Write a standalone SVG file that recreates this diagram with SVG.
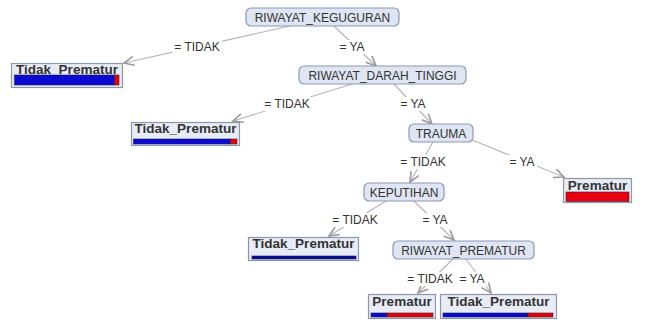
<svg xmlns="http://www.w3.org/2000/svg" width="664" height="320" viewBox="0 0 664 320">
<defs>
<marker id="arr" markerUnits="userSpaceOnUse" markerWidth="14" markerHeight="12" refX="11" refY="5" orient="auto">
<path d="M1,0.5 L11,5 L1,9.5" fill="none" stroke="#9a9a9a" stroke-width="1.6"/>
</marker>
<style>
.node rect{fill:#dfe5f2;stroke:#8e98b3;stroke-width:1.2}
.leaf rect.box{fill:#e8ecf6;stroke:#8f96a8;stroke-width:1.2}
.nt{font-family:"Liberation Sans",Arial,sans-serif;font-size:12px;fill:#333;text-anchor:middle}
.lt{font-family:"Liberation Sans",Arial,sans-serif;font-size:13.5px;font-weight:bold;fill:#333;text-anchor:middle}
.blue{fill:#0a0ad2;stroke:#1a1a4a;stroke-width:0.6}
.red{fill:#e60012;stroke:#4a1a1a;stroke-width:0.6}
.edges line{stroke:#b4b4b4;stroke-width:1.1;marker-end:url(#arr)}
.el rect{fill:#fff}
.el text{font-family:"Liberation Sans",Arial,sans-serif;font-size:12px;fill:#333;text-anchor:middle}
</style>
</defs>
<rect width="664" height="320" fill="#fff"/>
<g id="connectors" class="edges">
<line x1="290" y1="26" x2="124" y2="63"/>
<line x1="334" y1="26" x2="376" y2="66"/>
<line x1="352" y1="84" x2="233" y2="121"/>
<line x1="394" y1="84" x2="432" y2="124"/>
<line x1="433" y1="142" x2="410" y2="182"/>
<line x1="472" y1="140" x2="564" y2="177"/>
<line x1="386" y1="201" x2="329" y2="236"/>
<line x1="414" y1="201" x2="454" y2="240"/>
<line x1="453" y1="259" x2="418" y2="293"/>
<line x1="466" y1="259" x2="491" y2="293"/>
</g>
<g id="edge-labels" class="el">
<rect x="172" y="40" width="50" height="14"/><text x="197" y="51">= TIDAK</text>
<rect x="337" y="40" width="30" height="14"/><text x="352" y="51">= YA</text>
<rect x="262" y="97" width="50" height="14"/><text x="287" y="108">= TIDAK</text>
<rect x="398" y="97" width="30" height="14"/><text x="413" y="108">= YA</text>
<rect x="398" y="155" width="50" height="14"/><text x="423" y="166">= TIDAK</text>
<rect x="507" y="155" width="30" height="14"/><text x="522" y="166">= YA</text>
<rect x="330" y="213" width="50" height="14"/><text x="355" y="224">= TIDAK</text>
<rect x="420" y="213" width="30" height="14"/><text x="435" y="224">= YA</text>
<rect x="405" y="272" width="50" height="14"/><text x="430" y="283">= TIDAK</text>
<rect x="458" y="272" width="28" height="14"/><text x="472" y="283">= YA</text>
</g>
<g id="n-riwayat-keguguran" class="node">
<rect x="246" y="8" width="153" height="18" rx="5"/>
<text class="nt" x="322.5" y="21.5">RIWAYAT_KEGUGURAN</text>
</g>
<g id="n-riwayat-darah-tinggi" class="node">
<rect x="299" y="66" width="167" height="18" rx="5"/>
<text class="nt" x="382.5" y="79.5">RIWAYAT_DARAH_TINGGI</text>
</g>
<g id="n-trauma" class="node">
<rect x="409" y="124" width="64" height="18" rx="5"/>
<text class="nt" x="441" y="137.5">TRAUMA</text>
</g>
<g id="n-keputihan" class="node">
<rect x="364" y="183" width="80" height="18" rx="5"/>
<text class="nt" x="404" y="196.5">KEPUTIHAN</text>
</g>
<g id="n-riwayat-prematur" class="node">
<rect x="393" y="241" width="141" height="18" rx="5"/>
<text class="nt" x="463.5" y="254.5">RIWAYAT_PREMATUR</text>
</g>
<g id="leaf-1" class="leaf">
<rect class="box" x="11.5" y="63.5" width="111" height="24"/>
<text class="lt" x="67" y="73.5">Tidak_Prematur</text>
<rect class="blue" x="14.5" y="75" width="100" height="10"/>
<rect class="red" x="114.5" y="75" width="4.5" height="10"/>
</g>
<g id="leaf-2" class="leaf">
<rect class="box" x="131.5" y="122.5" width="108" height="23"/>
<text class="lt" x="185.5" y="133">Tidak_Prematur</text>
<rect class="blue" x="133.5" y="139" width="97" height="5"/>
<rect class="red" x="230.5" y="139" width="6.5" height="5"/>
</g>
<g id="leaf-3" class="leaf">
<rect class="box" x="563.5" y="178.5" width="68" height="24"/>
<text class="lt" x="597.5" y="189.5">Prematur</text>
<rect class="red" x="566" y="192" width="63" height="9.5"/>
</g>
<g id="leaf-4" class="leaf">
<rect class="box" x="248.5" y="237.5" width="110" height="23"/>
<text class="lt" x="303.5" y="248">Tidak_Prematur</text>
<rect class="blue" x="252" y="256" width="104" height="3" style="fill:#0a0a9a"/>
</g>
<g id="leaf-5" class="leaf">
<rect class="box" x="368.5" y="294.5" width="67" height="24"/>
<text class="lt" x="402" y="305.5">Prematur</text>
<rect class="blue" x="371" y="313" width="16" height="4"/>
<rect class="red" x="387" y="313" width="46" height="4"/>
</g>
<g id="leaf-6" class="leaf">
<rect class="box" x="440.5" y="294.5" width="116" height="24"/>
<text class="lt" x="498.5" y="305.5">Tidak_Prematur</text>
<rect class="blue" x="443" y="313" width="85" height="4"/>
<rect class="red" x="528" y="313" width="25" height="4"/>
</g>
</svg>
